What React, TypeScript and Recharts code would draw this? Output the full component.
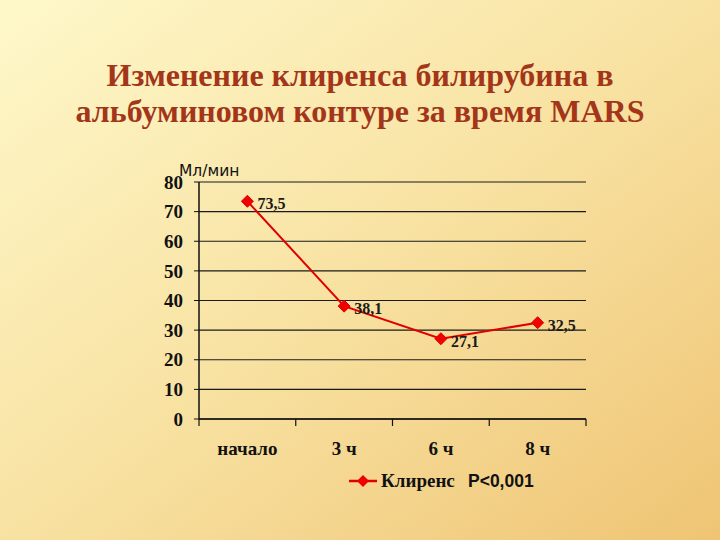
import { LineChart, Line, XAxis, YAxis, CartesianGrid, LabelList } from 'recharts';

const categories = ['начало', '3 ч', '6 ч', '8 ч'];
const clearance = [73.5, 38.1, 27.1, 32.5];
const yTicks = [0, 10, 20, 30, 40, 50, 60, 70, 80];

const data = categories.map((name, i) => ({ name, value: clearance[i] }));

const W = 720;
const H = 540;
const PLOT_LEFT = 199;
const PLOT_RIGHT = 586;
const PLOT_TOP = 182;
const PLOT_BOTTOM = 419;
const Y_AXIS_W = 45;
const X_AXIS_H = 40;
const BAND = (PLOT_RIGHT - PLOT_LEFT) / categories.length;

const serif = '"Liberation Serif", "Times New Roman", serif';
const sans = '"Liberation Sans", Arial, sans-serif';

const Diamond = (props: any) => {
  const { cx, cy } = props;
  if (cx == null || cy == null) return null;
  const r = 6;
  return (
    <polygon
      key={`d-${cx}`}
      points={`${cx},${cy - r} ${cx + r},${cy} ${cx},${cy + r} ${cx - r},${cy}`}
      fill="#f00000"
      stroke="#e00000"
    />
  );
};

// category labels sit in the band centre, tick marks on the band edges
const XTick = (props: any) => {
  const { x, y, payload, index } = props;
  const left = x - BAND / 2;
  return (
    <g>
      <line x1={left} y1={y - 8} x2={left} y2={y - 1} stroke="#111" strokeWidth={1.2} />
      {index === categories.length - 1 && (
        <line x1={x + BAND / 2} y1={y - 8} x2={x + BAND / 2} y2={y - 1} stroke="#111" strokeWidth={1.2} />
      )}
      <text x={x} y={y + 28} textAnchor="middle" fontFamily={serif} fontWeight="bold" fontSize={19} fill="#111">
        {payload.value}
      </text>
    </g>
  );
};

const ValueLabel = (props: any) => {
  const { x, y, value } = props;
  return (
    <text x={x + 10} y={y + 8} fontFamily={serif} fontWeight="bold" fontSize={16} fill="#1a1a1a">
      {String(value).replace('.', ',')}
    </text>
  );
};

export default function App() {
  return (
    <div
      style={{
        position: 'absolute',
        left: 0,
        top: 0,
        width: W,
        height: H,
        background: 'linear-gradient(to bottom right, #fef8ca 0%, #f8e2a2 50%, #efc474 100%)',
        overflow: 'hidden',
      }}
    >
      <div
        style={{
          position: 'absolute',
          left: 0,
          top: 57,
          width: W,
          textAlign: 'center',
          fontFamily: serif,
          fontWeight: 'bold',
          fontSize: 32,
          lineHeight: '36px',
          color: '#a3361a',
        }}
      >
        Изменение клиренса билирубина в
        <br />
        альбуминовом контуре за время MARS
      </div>
      <div
        style={{
          position: 'absolute',
          left: 179,
          top: 162,
          fontFamily: '"DejaVu Sans", sans-serif',
          fontSize: 15.5,
          color: '#111',
        }}
      >
        Мл/мин
      </div>
      <LineChart
        width={W}
        height={H}
        data={data}
        margin={{
          top: PLOT_TOP,
          right: W - PLOT_RIGHT,
          left: PLOT_LEFT - Y_AXIS_W,
          bottom: H - PLOT_BOTTOM - X_AXIS_H,
        }}
      >
        <CartesianGrid vertical={false} stroke="#1a1a1a" strokeWidth={1.2} />
        <XAxis
          dataKey="name"
          scale="band"
          height={X_AXIS_H}
          axisLine={{ stroke: '#111', strokeWidth: 1.5 }}
          tickLine={false}
          tick={<XTick />}
          interval={0}
        />
        <YAxis
          domain={[0, 80]}
          ticks={yTicks}
          width={Y_AXIS_W}
          axisLine={{ stroke: '#111', strokeWidth: 1.5 }}
          tickLine={{ stroke: '#111' }}
          tickSize={5}
          tickMargin={11}
          tick={{ fontFamily: serif, fontWeight: 'bold', fontSize: 19, fill: '#111' }}
          interval={0}
        />
        <Line
          type="linear"
          dataKey="value"
          stroke="#e00000"
          strokeWidth={2}
          dot={<Diamond />}
          isAnimationActive={false}
        >
          <LabelList dataKey="value" content={<ValueLabel />} />
        </Line>
      </LineChart>
      <svg style={{ position: 'absolute', left: 0, top: 0 }} width={W} height={H}>
        <line x1={349} y1={481} x2={377} y2={481} stroke="#e00000" strokeWidth={2.5} />
        <polygon points="363,475 369,481 363,487 357,481" fill="#f00000" />
        <text x={381} y={487} fontFamily={serif} fontWeight="bold" fontSize={19} fill="#111">
          Клиренс
        </text>
        <text x={468} y={487} fontFamily={sans} fontWeight="bold" fontSize={17.5} fill="#111">
          P&lt;0,001
        </text>
      </svg>
    </div>
  );
}
